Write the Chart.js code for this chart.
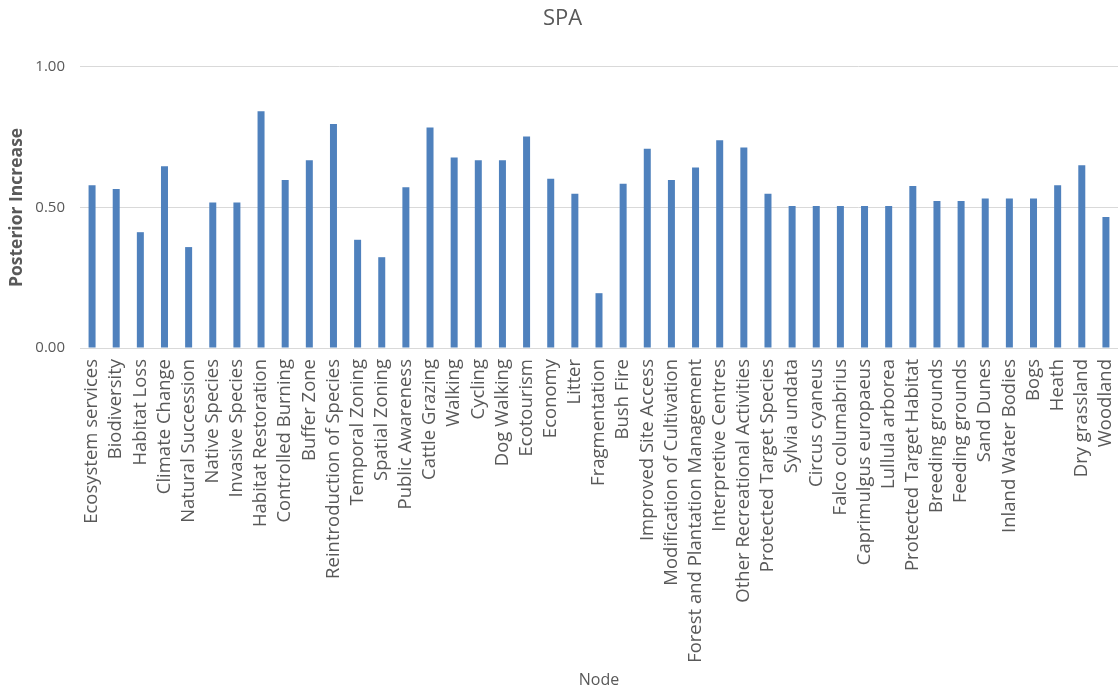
<!DOCTYPE html>
<html>
<head>
<meta charset="utf-8">
<script src="https://cdn.jsdelivr.net/npm/chart.js@4/dist/chart.umd.min.js"></script>
<style>
  html, body { margin: 0; padding: 0; background: #ffffff; }
  #wrap { width: 1118px; height: 692px; }
</style>
</head>
<body>
<div id="wrap"><canvas id="chart"></canvas></div>
<script>
// Network nodes and their posterior increase
const nodes = [
  "Ecosystem services", "Biodiversity", "Habitat Loss", "Climate Change",
  "Natural Succession", "Native Species", "Invasive Species", "Habitat Restoration",
  "Controlled Burning", "Buffer Zone", "Reintroduction of Species", "Temporal Zoning",
  "Spatial Zoning", "Public Awareness", "Cattle Grazing", "Walking", "Cycling",
  "Dog Walking", "Ecotourism", "Economy", "Litter", "Fragmentation", "Bush Fire",
  "Improved Site Access", "Modification of Cultivation", "Forest and Plantation Management",
  "Interpretive Centres", "Other Recreational Activities", "Protected Target Species",
  "Sylvia undata", "Circus cyaneus", "Falco columabrius", "Caprimulgus europaeus",
  "Lullula arborea", "Protected Target Habitat", "Breeding grounds", "Feeding grounds",
  "Sand Dunes", "Inland Water Bodies", "Bogs", "Heath", "Dry grassland", "Woodland"
];

const posteriorIncrease = [
  0.579, 0.566, 0.412, 0.647, 0.359, 0.518, 0.518, 0.842,
  0.598, 0.668, 0.797, 0.385, 0.323, 0.572, 0.784, 0.678, 0.668,
  0.668, 0.752, 0.602, 0.549, 0.195, 0.584, 0.709, 0.598, 0.642,
  0.739, 0.713, 0.549, 0.505, 0.505, 0.505, 0.505, 0.505, 0.576,
  0.523, 0.523, 0.532, 0.532, 0.532, 0.579, 0.650, 0.466
];

const yTicks = [0, 0.5, 1.0];

const textGrey = "#595959";
const fontFamily = "'Open Sans', 'DejaVu Sans', sans-serif";

new Chart(document.getElementById("chart"), {
  type: "bar",
  data: {
    labels: nodes,
    datasets: [{
      label: "Posterior Increase",
      data: posteriorIncrease,
      backgroundColor: "#4f81bd",
      borderWidth: 0,
      barPercentage: 0.58,
      categoryPercentage: 0.5
    }]
  },
  options: {
    responsive: true,
    maintainAspectRatio: false,
    animation: false,
    layout: { padding: { left: 7, right: 0, top: 6, bottom: 2 } },
    plugins: {
      legend: { display: false },
      tooltip: { enabled: false },
      title: {
        display: true,
        text: "SPA",
        color: textGrey,
        font: { family: fontFamily, size: 22, weight: "normal" },
        padding: { top: 0, bottom: 34.5 }
      }
    },
    scales: {
      x: {
        grid: { display: false, drawTicks: false },
        border: { display: true, color: "#d9d9d9", width: 1 },
        ticks: {
          color: textGrey,
          font: { family: fontFamily, size: 18.5 },
          minRotation: 90,
          maxRotation: 90,
          autoSkip: false,
          padding: 11
        },
        title: {
          display: true,
          text: "Node",
          color: textGrey,
          font: { family: fontFamily, size: 16 },
          padding: { top: 6, bottom: 0 }
        },
        // let the category band run from the value axis to the canvas edge
        afterFit: (scale) => { scale.paddingLeft = 0; scale.paddingRight = 0; }
      },
      y: {
        min: 0,
        max: 1,
        afterBuildTicks: (axis) => { axis.ticks = yTicks.map(v => ({ value: v })); },
        afterFit: (scale) => { scale.width = 73; },
        grid: { color: "#d9d9d9", drawTicks: false, lineWidth: 1 },
        border: { display: false },
        ticks: {
          color: textGrey,
          font: { family: fontFamily, size: 15 },
          padding: 15,
          callback: (v) => Number(v).toFixed(2)
        },
        title: {
          display: true,
          text: "Posterior Increase",
          color: textGrey,
          font: { family: fontFamily, size: 17.5, weight: "bold" },
          padding: { top: 0, bottom: 7 }
        }
      }
    }
  }
});
</script>
</body>
</html>
